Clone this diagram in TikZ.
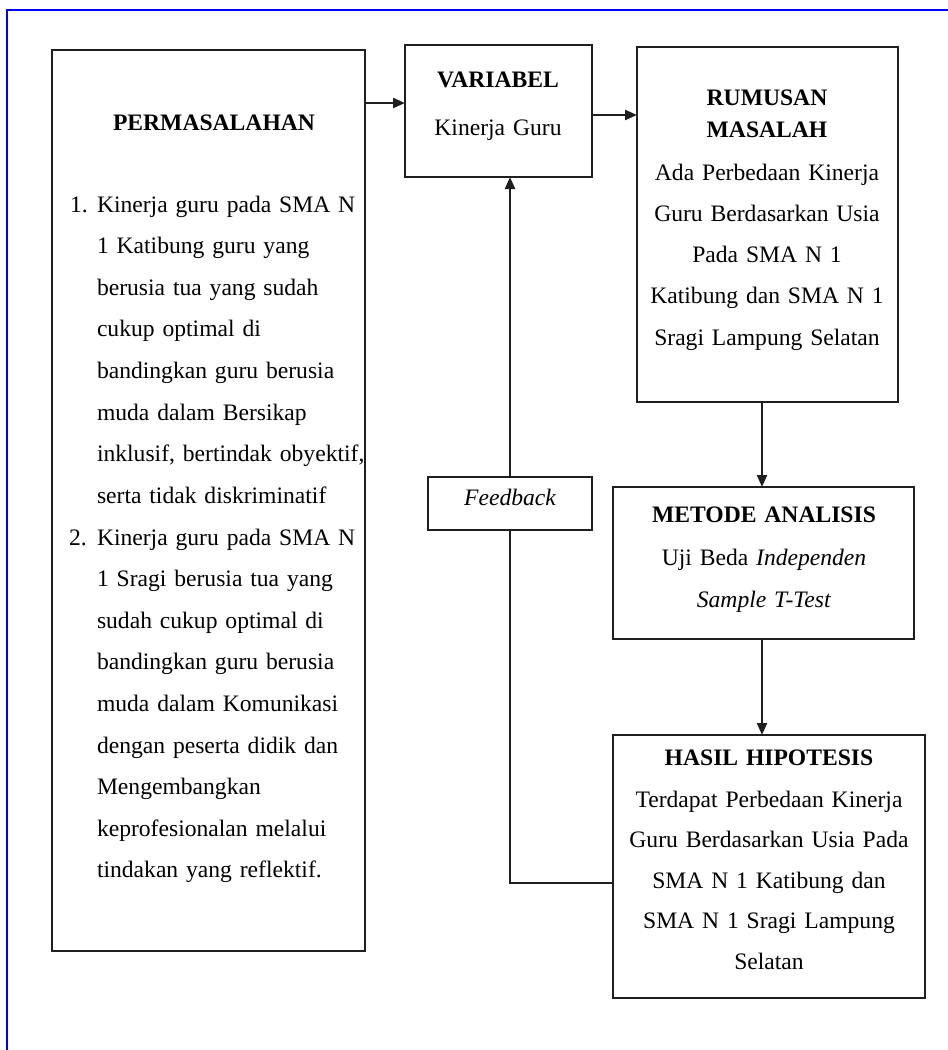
\documentclass[tikz,border=0pt]{standalone}
\usepackage{fontspec}
\setmainfont[WordSpace=0.85]{Liberation Serif}
\usetikzlibrary{arrows.meta}
\begin{document}
\begin{tikzpicture}[x=1pt,y=-1pt,
  box/.style={draw=black!88, line width=2.2pt, inner sep=0pt, outer sep=0pt, anchor=north west},
  conn/.style={draw=black!88, line width=2.2pt},
  arr/.style={conn, -{Triangle[length=12pt,width=10pt]}},
  body/.style={inner sep=0pt, outer sep=0pt, font=\fontsize{23.6}{41.6}\selectfont},
  ctext/.style={body, text width=300pt, align=center, anchor=base},
  ltext/.style={body, text width=300pt, align=left, anchor=base west},
  ttl/.style={ctext, font=\fontsize{23.6}{32}\selectfont\bfseries}]
\useasboundingbox (0,0) rectangle (948,1050);
\fill[white] (0,0) rectangle (948,1050);
\draw[blue, line width=2pt] (7,1052) -- (7,10) -- (950,10);

% boxes
\node[box, minimum width=313pt, minimum height=901pt] (perm) at (52,50) {};
\node[box, minimum width=187pt, minimum height=132pt] (var) at (405,45) {};
\node[box, minimum width=261pt, minimum height=355pt] (rum) at (637,47) {};
\node[box, minimum width=301pt, minimum height=152pt] (met) at (613,487) {};
\node[box, minimum width=312pt, minimum height=263pt] (has) at (613,735) {};
\node[box, minimum width=164pt, minimum height=53pt] (fb) at (428,477) {};

% texts
\node[ttl] (ptitle) at (214,130) {PERMASALAHAN};
\node[body, anchor=base west] (n1) at (70,212) {1.};
\node[ltext] (t1) at (97,212) {Kinerja guru pada SMA N\\1 Katibung guru yang\\berusia tua yang sudah\\cukup optimal di\\bandingkan guru berusia\\muda dalam Bersikap\\inklusif, bertindak obyektif,\\serta tidak diskriminatif};
\node[body, anchor=base west] (n2) at (69,545) {2.};
\node[ltext] (t2) at (97,545) {Kinerja guru pada SMA N\\1 Sragi berusia tua yang\\sudah cukup optimal di\\bandingkan guru berusia\\muda dalam Komunikasi\\dengan peserta didik dan\\Mengembangkan\\keprofesionalan melalui\\tindakan yang reflektif.};

\node[ttl] (vtitle) at (498,87) {VARIABEL};
\node[ctext] (vtext) at (498,135) {Kinerja Guru};

\node[ttl] (rtitle) at (767,105) {RUMUSAN\\MASALAH};
\node[ctext, font=\fontsize{23.6}{41.3}\selectfont] (rtext) at (767,180) {Ada Perbedaan Kinerja\\Guru Berdasarkan Usia\\Pada SMA N 1\\Katibung dan SMA N 1\\Sragi Lampung Selatan};

\node[ttl] (mtitle) at (764,522) {METODE ANALISIS};
\node[ctext, font=\fontsize{23.6}{42}\selectfont] (mtext) at (764,565) {Uji Beda \textit{Independen}\\\textit{Sample T-Test}};

\node[ttl] (htitle) at (769,765) {HASIL HIPOTESIS};
\node[ctext, font=\fontsize{23.6}{40.6}\selectfont] (htext) at (769,807) {Terdapat Perbedaan Kinerja\\Guru Berdasarkan Usia Pada\\SMA N 1 Katibung dan\\SMA N 1 Sragi Lampung\\Selatan};

\node[ctext, text width=150pt, font=\fontsize{23.6}{41.6}\selectfont\itshape] (fbtext) at (510,505) {Feedback};

% connectors
\coordinate (y1) at (0,103);
\coordinate (y2) at (0,115);
\coordinate (x3) at (762,0);
\coordinate (y4) at (0,883);
\draw[arr] (perm.east |- y1) -- (var.west |- y1);
\draw[arr] (var.east |- y2) -- (rum.west |- y2);
\draw[arr] (rum.south -| x3) -- (met.north -| x3);
\draw[arr] (met.south -| x3) -- (has.north -| x3);
\draw[conn] (has.west |- y4) -| (fb.south);
\draw[arr] (fb.north) -- (fb.north |- var.south);
\end{tikzpicture}
\end{document}
